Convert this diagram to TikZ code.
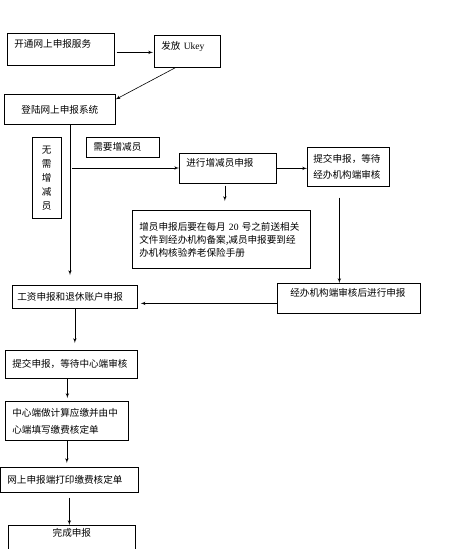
\documentclass[tikz,border=0pt]{standalone}
\usepackage{fontspec}
\setmainfont{Liberation Serif}
\newfontfamily\cjk{Noto Sans CJK SC}
\usetikzlibrary{arrows}

\begin{document}
\begin{tikzpicture}[x=1pt,y=-1pt]
	\tikzstyle{process} = [rectangle, draw, line width=0.7pt, anchor=north west, align=left, inner xsep=7pt, font=\cjk\fontsize{9.6pt}{13pt}\selectfont]
	\tikzstyle{upper} = [text height=8pt, text depth=12pt]
	\tikzstyle{connector} = [draw, line width=0.6pt, -latex']
\path [use as bounding box, clip] (0,0) rectangle (455,549);
\node [process, upper, minimum width=107pt, minimum height=32pt, text width=93pt] at (7,33) (open) {开通网上申报服务};
\node [process, upper, minimum width=66pt, minimum height=32pt, text width=52pt] at (154,35) (ukey) {发放 {\rmfamily Ukey}};
\node [process, align=center, minimum width=111pt, minimum height=30pt, text width=97pt] at (4,94) (login) {登陆网上申报系统};
\node [process, inner xsep=4pt, minimum width=29pt, minimum height=81pt, text width=10pt, font=\cjk\fontsize{9.6pt}{14pt}\selectfont] at (32,137) (nochange) {无\\需\\增\\减\\员};
\node [process, minimum width=73pt, minimum height=20pt, text width=59pt] at (86,137) (change) {需要增减员};
\node [process, upper, minimum width=97pt, minimum height=30pt, text width=83pt] at (179,153) (staff) {进行增减员申报};
\node [process, inner xsep=6pt, minimum width=82pt, minimum height=39pt, text width=70pt, font=\cjk\fontsize{9.6pt}{16pt}\selectfont] at (307,147) (submit) {提交申报，等待\\经办机构端审核};
\node [process, minimum width=178pt, minimum height=58pt, text width=164pt] at (132,210) (note) {增员申报后要在每月 {\rmfamily 20} 号之前送相关\\文件到经办机构备案,减员申报要到经\\办机构核验养老保险手册};
\node [process, upper, inner xsep=13pt, minimum width=143pt, minimum height=30pt, text width=117pt] at (277,283) (agency) {经办机构端审核后进行申报};
\node [process, inner xsep=5pt, minimum width=125pt, minimum height=23pt, text width=115pt] at (12,285) (wage) {工资申报和退休账户申报};
\node [process, minimum width=132pt, minimum height=28pt, text width=118pt] at (5,350) (center) {提交申报，等待中心端审核};
\node [process, minimum width=123pt, minimum height=39pt, text width=109pt, font=\cjk\fontsize{9.6pt}{17pt}\selectfont] at (5,401) (calc) {中心端做计算应缴并由中\\心端填写缴费核定单};
\node [process, minimum width=138pt, minimum height=25pt, text width=124pt] at (0,467) (print) {网上申报端打印缴费核定单};
\node [process, align=center, text height=8pt, text depth=25pt, minimum width=127pt, minimum height=40pt, text width=113pt] at (8,525) (done) {完成申报};
\coordinate (split) at (70,168);
\path [connector, shorten <=2pt, shorten >=1pt] ([yshift=-3pt]open.east) -- ([yshift=-3pt]open.east -| ukey.west);
\path [connector] ([xshift=-12pt]ukey.south) -- ([yshift=10pt]login.east);
\path [connector, shorten >=10pt] (login.south -| split) -- (split |- wage.north);
\path [connector, shorten <=2pt] (split) -- (split -| staff.west);
\path [connector] (staff.east) -- (staff.east -| submit.west);
\path [connector, shorten <=2pt, shorten >=9pt] ([xshift=-3pt]staff.south) -- ([xshift=-3pt]staff.south |- note.north);
\path [connector, shorten <=11pt] ([xshift=-9pt]submit.south) -- ([xshift=-9pt]submit.south |- agency.north);
\path [connector, shorten >=3pt] ([yshift=-5pt]agency.west) -- ([yshift=-5pt]agency.west -| wage.east);
\path [connector, shorten >=7pt] (wage.south) -- (wage.south |- center.north);
\path [connector, shorten >=3pt] ([xshift=-4pt]center.south) -- ([xshift=-4pt]center.south |- calc.north);
\path [connector, shorten >=4pt] (calc.south) -- (calc.south |- print.north);
\path [connector, shorten <=5pt] (print.south) -- (print.south |- done.north);
\end{tikzpicture}
\end{document}
